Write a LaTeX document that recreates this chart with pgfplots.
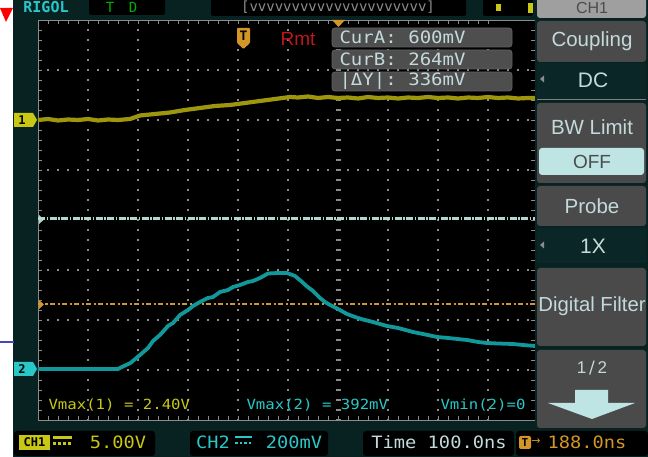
\documentclass[border=0pt]{standalone}
\usepackage{pgfplots}
\pgfplotsset{compat=1.18}
\usepackage{fontspec}
\setmainfont{Liberation Sans}
\newfontfamily\mono{DejaVu Sans Mono}
\newfontfamily\dv{DejaVu Sans}
\definecolor{bezel}{RGB}{8,34,34}
\definecolor{chone}{RGB}{158,150,12}
\definecolor{chtwo}{RGB}{18,152,154}
\definecolor{ytxt}{RGB}{200,200,20}
\definecolor{ctxt}{RGB}{40,200,200}
\definecolor{gridc}{RGB}{140,140,140}
\definecolor{menug}{RGB}{74,74,74}
\definecolor{menut}{RGB}{196,218,218}
\definecolor{menudark}{RGB}{10,38,38}
\definecolor{offbg}{RGB}{190,228,228}
\definecolor{orng}{RGB}{212,150,40}
\definecolor{curw}{RGB}{180,214,208}
\definecolor{curbox}{RGB}{78,78,78}
\definecolor{rmt}{RGB}{190,24,24}
\newcommand{\fs}[1]{\fontsize{#1}{#1}\selectfont}
\tikzset{img/.style={x=1pt,y=-1pt,shift={(0pt,457pt)}}}
\begin{document}
\begin{tikzpicture}
\useasboundingbox (0pt,0pt) rectangle (648pt,457pt);
\clip (0pt,0pt) rectangle (648pt,457pt);
\begin{scope}[img]
\fill[bezel] (0,0) rectangle (648,457);
\fill[white] (0,0) rectangle (13,457);
\fill[red] (0,8) -- (13,8) -- (6,22) -- cycle;
\draw[blue!45!gray, line width=1.5pt] (0,342) -- (14,342);
% top bar
\node[anchor=base, text=ctxt, font=\mono\fs{15}\bfseries] at (46,13) {RIGOL};
\fill[black, rounded corners=2pt] (89,-5) rectangle (165,15);
\node[anchor=base, text=green!70!black, font=\mono\fs{14}] at (110,13) {T};
\node[anchor=base, text=green!70!black, font=\mono\fs{14}] at (133,13) {D};
\fill[black, rounded corners=2pt] (211,-5) rectangle (466,16);
\node[anchor=base, text=gridc, font=\mono\fs{14}] at (338,12) {[vvvvvvvvvvvvvvvvvvvvv]};
\fill[black, rounded corners=2pt] (483,-5) rectangle (533,16);
\fill[ytxt] (496,4) rectangle (501,11);
\fill[ytxt] (528,3) rectangle (533,13);
\end{scope}
% axis / screen
\begin{axis}[at={(38pt,37pt)}, anchor=south west, scale only axis,
  width=497pt, height=400pt, xmin=0, xmax=9.94, ymin=-4, ymax=4,
  axis background/.style={fill=black},
  axis line style={gridc, line width=0.8pt},
  xtick={0,...,9}, ytick={-4,...,4}, minor x tick num=4, minor y tick num=4,
  xticklabels={}, yticklabels={}, tick align=inside,
  major tick length=4pt, minor tick length=4pt,
  every tick/.style={gridc, line width=0.8pt}]
\pgfplotsinvokeforeach{1,2,3,4,5,7,8,9}{\draw[gridc, line width=1.6pt, dash pattern=on 1.6pt off 8.4pt, dash phase=0.8pt] (axis cs:#1,-4) -- (axis cs:#1,4);}
\pgfplotsinvokeforeach{-3,-2,-1,1,2,3}{\draw[gridc, line width=1.6pt, dash pattern=on 1.6pt off 8.4pt, dash phase=0.8pt] (axis cs:0,#1) -- (axis cs:9.94,#1);}
\draw[gridc, line width=5pt, dash pattern=on 1.6pt off 8.4pt, dash phase=0.8pt] (axis cs:6,-4) -- (axis cs:6,4);
\draw[curw, line width=2.4pt, dash pattern=on 7pt off 1.5pt on 1.5pt off 1.5pt] (axis cs:0,0.03) -- (axis cs:9.94,0.03);
\draw[orng, line width=1.6pt, dash pattern=on 5pt off 2.5pt on 2pt off 2.5pt] (axis cs:0,-1.68) -- (axis cs:9.94,-1.68);
\addplot[chone, line width=4.2pt] coordinates {
(0,2.00) (0.2,2.02) (0.4,1.99) (0.6,2.01) (0.8,2.00) (1.0,2.02) (1.2,1.99) (1.4,2.01)
(1.6,2.00) (1.84,2.02) (2.04,2.09) (2.34,2.12) (2.64,2.15) (2.94,2.20) (3.24,2.24)
(3.54,2.28) (3.84,2.30) (4.14,2.34) (4.44,2.38) (4.74,2.42) (5.04,2.46)
(5.2,2.45) (5.4,2.47) (5.6,2.44) (5.8,2.46) (6.0,2.44) (6.2,2.45)
(6.4,2.43) (6.6,2.46) (6.8,2.44) (7.0,2.45) (7.2,2.43) (7.4,2.45) (7.6,2.44) (7.8,2.46)
(8.0,2.44) (8.2,2.45) (8.4,2.43) (8.6,2.45) (8.8,2.44) (9.0,2.46) (9.2,2.44) (9.4,2.45)
(9.6,2.43) (9.8,2.44) (9.94,2.44)};
\addplot[chtwo, line width=3.8pt] coordinates {
(0,-2.98) (0.5,-2.98) (1.0,-2.98) (1.6,-2.98) (1.72,-2.92) (1.85,-2.86) (2.04,-2.70)
(2.2,-2.56) (2.3,-2.42) (2.44,-2.30) (2.6,-2.12) (2.7,-2.06) (2.84,-1.90) (3.0,-1.80)
(3.1,-1.72) (3.24,-1.64) (3.4,-1.56) (3.5,-1.54) (3.64,-1.44) (3.8,-1.40) (3.9,-1.34)
(4.04,-1.30) (4.2,-1.24) (4.3,-1.22) (4.44,-1.16) (4.6,-1.07) (4.8,-1.06) (4.98,-1.06)
(5.14,-1.12) (5.26,-1.22) (5.38,-1.33) (5.5,-1.42) (5.64,-1.56) (5.74,-1.64) (5.84,-1.70)
(6.0,-1.78) (6.18,-1.88) (6.34,-1.94) (6.5,-1.99) (6.7,-2.04) (6.98,-2.12) (7.2,-2.16)
(7.5,-2.24) (7.7,-2.28) (7.98,-2.34) (8.2,-2.36) (8.58,-2.40) (8.8,-2.44) (8.98,-2.46)
(9.2,-2.47) (9.5,-2.48) (9.7,-2.50) (9.94,-2.52)};
\end{axis}
\begin{scope}[img]
% left markers
\fill[ytxt] (14,113) -- (33,113) -- (37,120) -- (33,127) -- (14,127) -- cycle;
\node[font=\mono\fs{12}\bfseries, text=black] at (22,120) {1};
\fill[ctxt] (14,362) -- (33,362) -- (37,369) -- (33,376) -- (14,376) -- cycle;
\node[font=\mono\fs{12}\bfseries, text=black] at (22,369) {2};
\fill[curw] (39,215) -- (44,219.5) -- (39,224) -- cycle;
\fill[orng] (39,300) -- (44,304.5) -- (39,309) -- cycle;
% top screen marks
\fill[orng] (332,20) -- (345,20) -- (338.5,27) -- cycle;
\fill[orng, rounded corners=1pt] (237,28) -- (250,28) -- (250,43) -- (243.5,49) -- (237,43) -- cycle;
\node[font=\mono\fs{13}\bfseries, text=black] at (243.5,36) {T};
\node[font=\fs{19}, text=rmt] at (298,39) {Rmt};
% cursor boxes
\foreach \yy/\tx in {28/{CurA:\ 600mV}, 50/{CurB:\ 264mV}, 72/{|ΔY|:\ 336mV}} {
  \draw[fill=curbox, draw=gridc!70!black, rounded corners=3pt, line width=0.8pt] (332,\yy) rectangle (512,\yy+19);
  \node[anchor=west, text=menut, font=\mono\fs{17}] at (336,\yy+9.5) {\scalebox{1.12}[1]{\tx}};
}
% measurements
\node[anchor=west, text=ytxt, font=\mono\fs{14}] at (45,405) {\scalebox{1.12}[1]{Vmax(1) = 2.40V}};
\node[anchor=west, text=ctxt, font=\mono\fs{14}] at (243,405) {\scalebox{1.12}[1]{Vmax(2) = 392mV}};
\node[anchor=west, text=ctxt, font=\mono\fs{14}] at (437,405) {\scalebox{1.12}[1]{Vmin(2)=0}};
% right menu
\fill[bezel] (535,0) rectangle (648,430);
\fill[gray!75, rounded corners=3pt] (537,-10) rectangle (646,18);
\node[anchor=base, text=black!70, font=\fs{16}] at (592,14) {CH1};
\fill[menug, rounded corners=3pt] (537,21) rectangle (646,62);
\node[text=menut, font=\fs{20.5}] at (592,41) {Coupling};
\fill[menudark] (537,63) rectangle (646,99);
\fill[gridc] (540,79) -- (544,75.5) -- (544,82.5) -- cycle;
\node[text=menut, font=\fs{21}] at (593,80) {DC};
\draw[gray, line width=1pt] (537,100) -- (646,100);
\fill[menug, rounded corners=3pt] (537,103) rectangle (646,183);
\node[text=menut, font=\fs{20.5}] at (592,127) {BW Limit};
\fill[offbg, rounded corners=3pt] (539,148) rectangle (644,175);
\node[text=black!70, font=\fs{19}] at (592,162) {OFF};
\fill[menug, rounded corners=3pt] (537,186) rectangle (646,226);
\node[text=menut, font=\fs{20.5}] at (592,206) {Probe};
\fill[menudark] (537,228) rectangle (646,263);
\fill[gridc] (540,245) -- (544,241.5) -- (544,248.5) -- cycle;
\node[text=menut, font=\fs{21}] at (593,246) {1X};
\fill[menug, rounded corners=3pt] (537,268) rectangle (646,346);
\node[text=menut, font=\fs{20.3}] at (592,306) {Digital Filter};
\fill[menug, rounded corners=3pt] (537,350) rectangle (646,428);
\node[text=menut, font=\fs{17}] at (592,368) {1\,{\dv ∕}\,2};
\fill[offbg] (575,390) rectangle (608,403) (548,403) -- (635,403) -- (592,419) -- cycle;
% status bar
\fill[black, rounded corners=3pt] (14,431) rectangle (155,456);
\fill[ytxt] (19,435) rectangle (50,450);
\node[text=black, font=\mono\fs{12}\bfseries] at (34.5,442.5) {CH1};
\fill[ytxt] (53,436) rectangle (72,439);
\draw[ytxt, line width=3pt, dash pattern=on 3pt off 2pt] (53,444) -- (72,444);
\node[text=ytxt, font=\mono\fs{17}] at (118,442) {\scalebox{1.1}[1]{5.00V}};
\fill[black, rounded corners=3pt] (190,431) rectangle (328,456);
\node[text=ctxt, font=\mono\fs{17}] at (213,442) {\scalebox{1.1}[1]{CH2}};
\fill[ctxt] (235,436) rectangle (252,438.5);
\draw[ctxt, line width=2.5pt, dash pattern=on 2.5pt off 2pt] (235,443) -- (252,443);
\node[text=ctxt, font=\mono\fs{17}] at (294,442) {\scalebox{1.1}[1]{200mV}};
\fill[black, rounded corners=3pt] (363,431) rectangle (514,456);
\node[text=menut, font=\mono\fs{17}] at (439,442) {\scalebox{1.1}[1]{Time 100.0ns}};
\fill[black, rounded corners=3pt] (516,431) rectangle (648,456);
\fill[orng, rounded corners=2pt] (519,436) rectangle (531,449);
\node[text=black, font=\mono\fs{11}\bfseries] at (525,442.5) {T};
\node[text=orng, font=\dv\fs{11}] at (536,442) {→};
\node[text=orng, font=\mono\fs{17}] at (587,442) {\scalebox{1.1}[1]{188.0ns}};
\end{scope}
\end{tikzpicture}
\end{document}
